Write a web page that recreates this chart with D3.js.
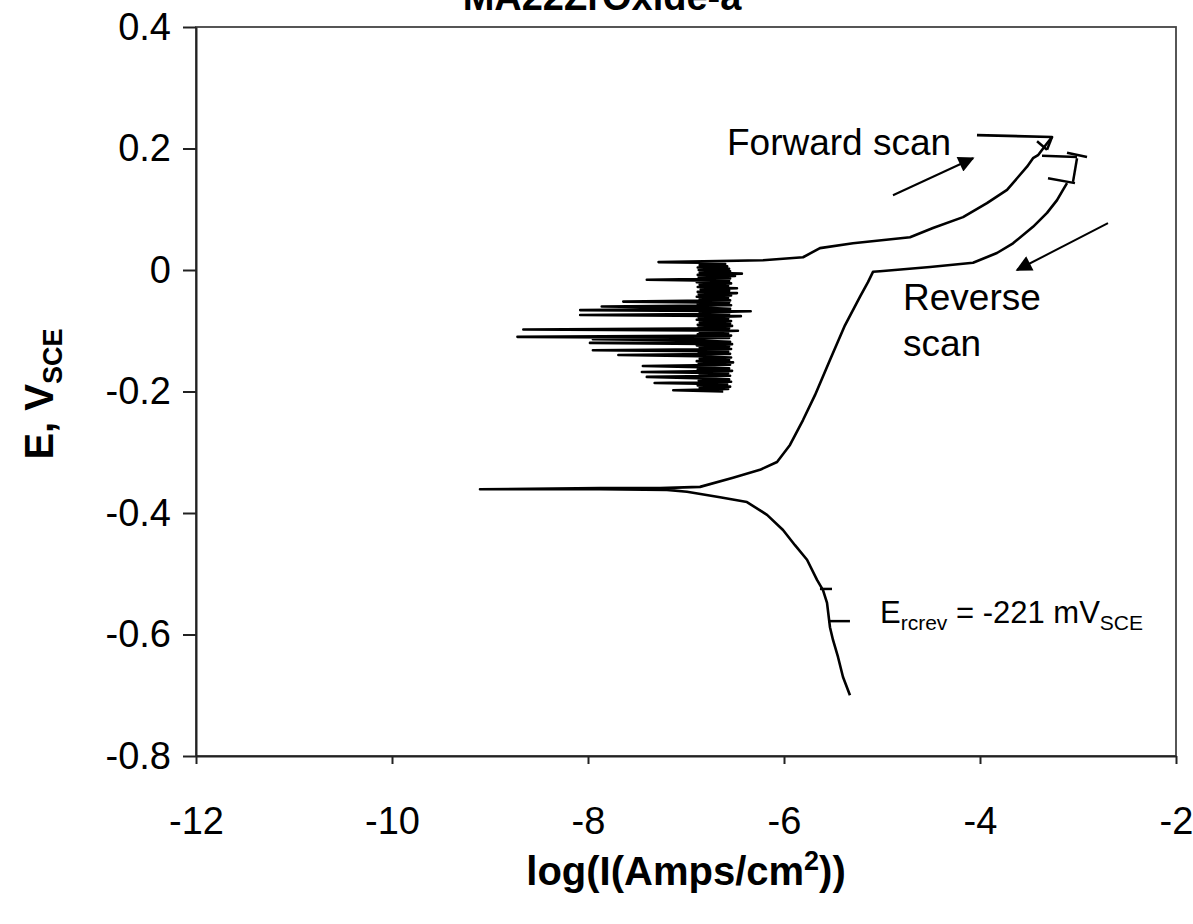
<!DOCTYPE html>
<html>
<head>
<meta charset="utf-8">
<script src="https://cdn.jsdelivr.net/npm/d3@7"></script>
<style>
  body { margin: 0; background: #fff; }
  text { font-family: "Liberation Sans", Arial, sans-serif; fill: #000; }
</style>
</head>
<body>
<script>
// Datos (log I en A/cm2, E en V_SCE)
var xTicks = [-12, -10, -8, -6, -4, -2];
var xTickLabels = ["-12", "-10", "-8", "-6", "-4", "-2"];
var yTicks = [-0.8, -0.6, -0.4, -0.2, 0, 0.2, 0.4];
var yTickLabels = ["-0.8", "-0.6", "-0.4", "-0.2", "0", "0.2", "0.4"];

// Rama catodica, pico de Ecorr, rama anodica y barrido inverso
var scanLogI = [-5.327, -5.398, -5.449, -5.500, -5.531, -5.561, -5.602, -5.663, -5.765, -5.888,
  -6.010, -6.173, -6.378, -6.653, -6.990, -7.194, -7.878, -9.102, -7.878, -7.265,
  -6.857, -6.520, -6.245, -6.071, -5.939, -5.806, -5.684, -5.531, -5.378, -5.224,
  -5.143, -5.092, -5.020, -4.510, -4.071, -3.827, -3.663, -3.459, -3.316, -3.214,
  -3.153, -3.112];
var scanE = [-0.700, -0.670, -0.637, -0.609, -0.588, -0.548, -0.527, -0.510, -0.477, -0.453,
  -0.428, -0.403, -0.382, -0.374, -0.365, -0.362, -0.361, -0.361, -0.359, -0.359,
  -0.357, -0.342, -0.329, -0.316, -0.288, -0.247, -0.206, -0.148, -0.091, -0.044,
  -0.020, -0.003, -0.002, 0.005, 0.012, 0.028, 0.044, 0.071, 0.094, 0.115,
  0.132, 0.143];

// Barrido directo: zona pasiva con ruido (de -0.200 a 0.012 V) y ruptura
var fwdLogI = [
  -6.62, -7.13, -6.57, -6.86, -6.55, -6.88, -6.58, -7.32, -6.54, -6.87,
  -6.56, -6.89, -7.40, -6.55, -6.86, -6.57, -7.45, -6.53, -6.88, -6.56,
  -6.85, -7.44, -6.55, -6.87, -6.52, -6.89, -6.56, -6.86, -6.54, -6.88,
  -7.69, -6.55, -6.87, -6.57, -7.95, -6.54, -6.86, -6.56, -6.89, -6.53,
  -7.98, -6.55, -6.87, -7.95, -6.56, -8.72, -6.54, -6.88, -6.57, -6.86,
  -6.47, -8.66, -6.56, -6.87, -6.53, -6.88, -6.55, -6.86, -6.54, -6.89,
  -6.57, -6.87, -6.44, -8.08, -6.56, -6.86, -6.34, -8.08, -6.55, -6.87,
  -7.86, -6.54, -6.88, -6.56, -7.64, -6.55, -6.86, -6.57, -6.89, -6.54,
  -6.87, -6.48, -6.88, -6.56, -6.85, -6.48, -6.88, -6.57, -6.86, -6.54,
  -6.89, -6.56, -7.40, -6.55, -6.87, -6.50, -6.88, -6.43, -6.86, -6.55,
  -6.87, -6.56, -6.88, -6.58, -6.86, -6.60, -6.84,
  -7.28, -6.214, -5.806, -5.633, -5.296, -4.714, -4.480, -4.173, -3.929, -3.724,
  -3.622, -3.520, -3.459, -3.408, -3.337, -3.265, -4.031];
var fwdE = [
  -0.200, -0.198, -0.196, -0.194, -0.192, -0.190, -0.188, -0.186, -0.184, -0.182,
  -0.180, -0.178, -0.176, -0.174, -0.172, -0.170, -0.168, -0.166, -0.164, -0.162,
  -0.160, -0.158, -0.156, -0.154, -0.152, -0.150, -0.148, -0.146, -0.144, -0.142,
  -0.140, -0.138, -0.136, -0.134, -0.132, -0.130, -0.128, -0.126, -0.124, -0.122,
  -0.120, -0.118, -0.116, -0.114, -0.112, -0.110, -0.108, -0.106, -0.104, -0.102,
  -0.100, -0.098, -0.096, -0.094, -0.092, -0.090, -0.088, -0.086, -0.084, -0.082,
  -0.080, -0.078, -0.076, -0.074, -0.072, -0.070, -0.068, -0.066, -0.064, -0.062,
  -0.060, -0.058, -0.056, -0.054, -0.052, -0.050, -0.048, -0.046, -0.044, -0.042,
  -0.040, -0.038, -0.036, -0.034, -0.032, -0.030, -0.028, -0.026, -0.024, -0.022,
  -0.020, -0.018, -0.016, -0.014, -0.012, -0.010, -0.008, -0.006, -0.004, -0.002,
  0.000, 0.002, 0.004, 0.006, 0.008, 0.010, 0.012,
  0.013, 0.016, 0.021, 0.036, 0.044, 0.054, 0.069, 0.087, 0.110, 0.132,
  0.151, 0.170, 0.184, 0.189, 0.204, 0.219, 0.222];

// Marcas cortas dibujadas a mano [logI1, E1, logI2, E2]
var marks = [
  [-3.418, 0.212, -3.316, 0.198], [-3.316, 0.198, -3.265, 0.219],
  [-3.367, 0.188, -3.010, 0.186], [-3.112, 0.193, -2.908, 0.186],
  [-3.010, 0.184, -3.051, 0.145], [-3.306, 0.151, -3.031, 0.143],
  [-5.633, -0.525, -5.510, -0.525], [-5.551, -0.578, -5.327, -0.578]
];
// Flechas [desde logI, desde E, hasta logI, hasta E]
var arrows = [[-4.888, 0.123, -4.071, 0.184], [-2.694, 0.077, -3.622, 0.000]];

var width = 1193, height = 924;
var plotLeft = 196, plotRight = 1176, plotTop = 27, plotBottom = 756;

var svg = d3.select("body").append("svg")
  .attr("width", width)
  .attr("height", height);

var x = d3.scaleLinear().domain([-12, -2]).range([plotLeft, plotRight]);
var y = d3.scaleLinear().domain([-0.8, 0.4]).range([plotBottom, plotTop]);

// Marco del area de trazado
svg.append("rect")
  .attr("x", plotLeft).attr("y", plotTop)
  .attr("width", plotRight - plotLeft).attr("height", plotBottom - plotTop)
  .attr("fill", "none").attr("stroke", "#444").attr("stroke-width", 1.8);

// Ejes
var gy = svg.append("g")
  .attr("transform", "translate(" + plotLeft + ",0)")
  .call(d3.axisLeft(y).tickValues(yTicks).tickSize(13).tickSizeOuter(0).tickPadding(12)
    .tickFormat(function(d, i) { return yTickLabels[i]; }));
gy.selectAll("text").style("font-size", "38px");

var gx = svg.append("g")
  .attr("transform", "translate(0," + plotBottom + ")")
  .call(d3.axisBottom(x).tickValues(xTicks).tickSize(8).tickSizeOuter(0).tickPadding(43)
    .tickFormat(function(d, i) { return xTickLabels[i]; }));
gx.selectAll("text").style("font-size", "38px");

svg.selectAll(".domain").attr("stroke", "#222").attr("stroke-width", 2);
svg.selectAll(".tick line").attr("stroke", "#222").attr("stroke-width", 2);

// Curvas
var line = d3.line()
  .x(function(d) { return x(d[0]); })
  .y(function(d) { return y(d[1]); });

svg.append("path")
  .datum(scanLogI.map(function(v, i) { return [v, scanE[i]]; }))
  .attr("fill", "none").attr("stroke", "#000").attr("stroke-width", 2.6)
  .attr("stroke-linejoin", "round")
  .attr("d", line);

svg.append("path")
  .datum(fwdLogI.map(function(v, i) { return [v, fwdE[i]]; }))
  .attr("fill", "none").attr("stroke", "#000").attr("stroke-width", 2.6)
  .attr("stroke-linejoin", "round")
  .attr("d", line);

svg.append("g").selectAll("line")
  .data(marks).enter().append("line")
  .attr("x1", function(d) { return x(d[0]); })
  .attr("y1", function(d) { return y(d[1]); })
  .attr("x2", function(d) { return x(d[2]); })
  .attr("y2", function(d) { return y(d[3]); })
  .attr("stroke", "#000").attr("stroke-width", 2.5);

// Flechas
svg.append("defs").append("marker")
  .attr("id", "head")
  .attr("viewBox", "0 0 10 10")
  .attr("refX", 9).attr("refY", 5)
  .attr("markerWidth", 9).attr("markerHeight", 8)
  .attr("markerUnits", "strokeWidth")
  .attr("orient", "auto")
  .append("path").attr("d", "M0,0 L10,5 L0,10 Z").attr("fill", "#000");

svg.append("g").selectAll("line")
  .data(arrows).enter().append("line")
  .attr("x1", function(d) { return x(d[0]); })
  .attr("y1", function(d) { return y(d[1]); })
  .attr("x2", function(d) { return x(d[2]); })
  .attr("y2", function(d) { return y(d[3]); })
  .attr("stroke", "#000").attr("stroke-width", 2)
  .attr("marker-end", "url(#head)");

// Textos
svg.append("text")
  .attr("x", 602).attr("y", 10)
  .attr("text-anchor", "middle")
  .style("font-size", "38px").style("font-weight", "bold")
  .text("MA22ZrOxide-a");

svg.append("text")
  .attr("x", 727).attr("y", 155)
  .style("font-size", "37px")
  .text("Forward scan");

svg.append("text")
  .attr("x", 903).attr("y", 310)
  .style("font-size", "37px")
  .text("Reverse");

svg.append("text")
  .attr("x", 903).attr("y", 356)
  .style("font-size", "37px")
  .text("scan");

var erp = svg.append("text")
  .attr("x", 880).attr("y", 623)
  .style("font-size", "31px");
erp.append("tspan").text("E");
erp.append("tspan").attr("dy", 7).style("font-size", "21px").text("rcrev");
erp.append("tspan").attr("dy", -7).text(" = -221 mV");
erp.append("tspan").attr("dy", 7).style("font-size", "21px").text("SCE");

var ylab = svg.append("text")
  .attr("transform", "translate(53,394) rotate(-90)")
  .attr("text-anchor", "middle")
  .style("font-size", "40px").style("font-weight", "bold");
ylab.append("tspan").text("E, V");
ylab.append("tspan").attr("dy", 9).style("font-size", "27px").text("SCE");

var xlab = svg.append("text")
  .attr("x", 686).attr("y", 885)
  .attr("text-anchor", "middle")
  .style("font-size", "40px").style("font-weight", "bold");
xlab.append("tspan").text("log(I(Amps/cm");
xlab.append("tspan").attr("dy", -15).style("font-size", "27px").text("2");
xlab.append("tspan").attr("dy", 15).text("))");
</script>
</body>
</html>
